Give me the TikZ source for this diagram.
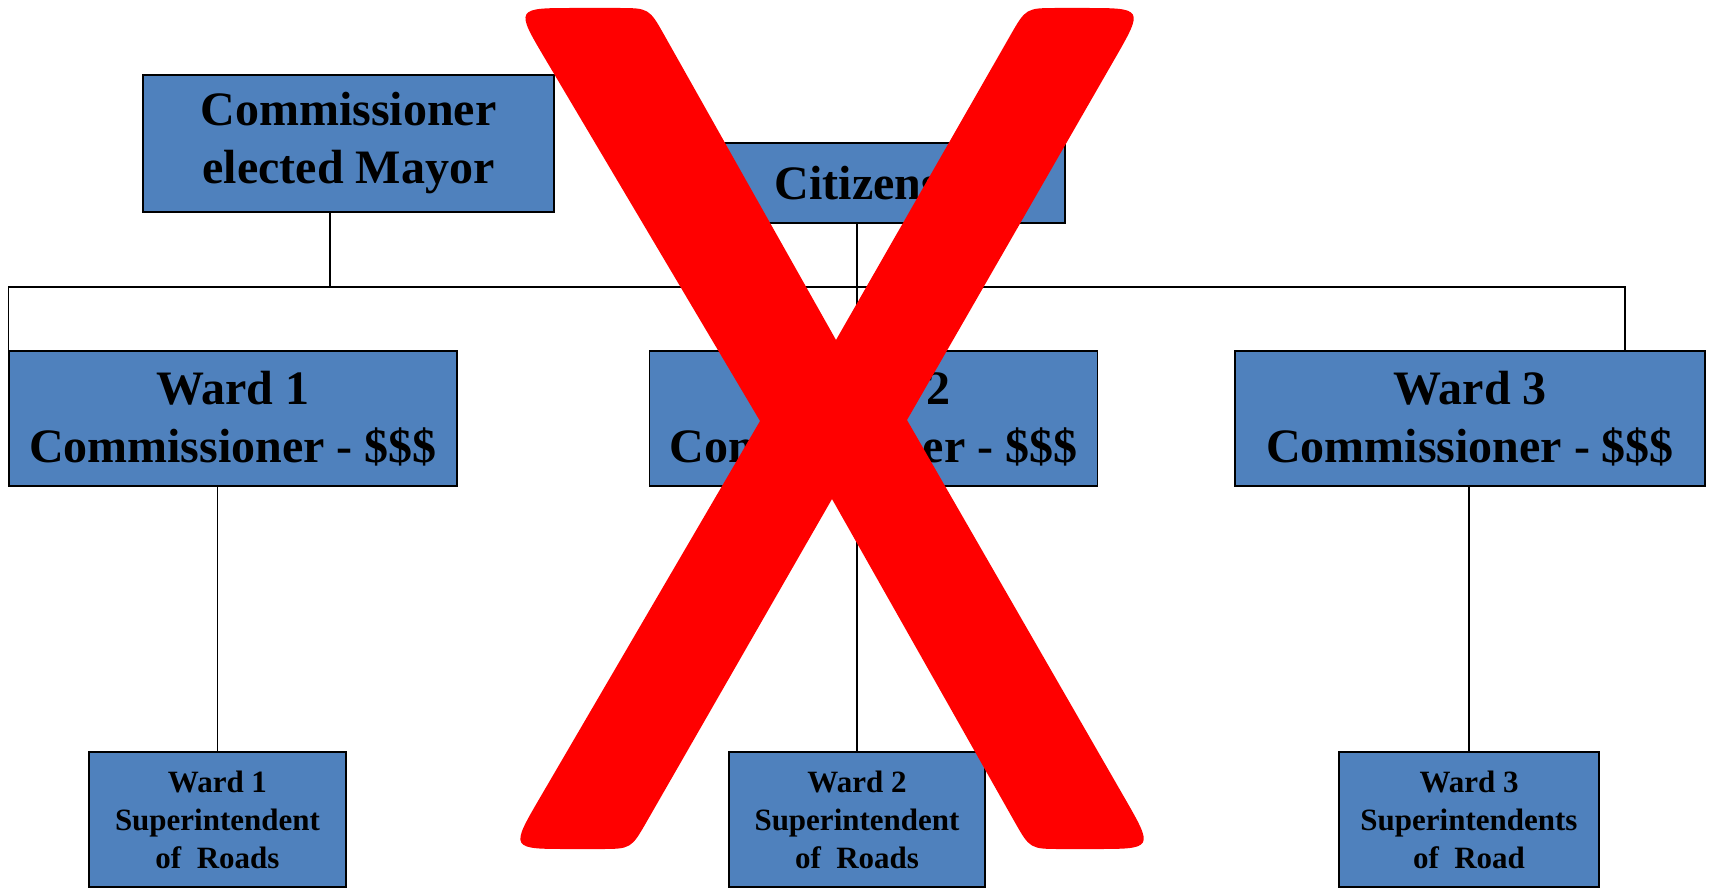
\documentclass[tikz,border=0pt]{standalone}
\usepackage{fontspec}
\setmainfont{Liberation Serif}
\usetikzlibrary{calc}
\definecolor{boxblue}{HTML}{4F81BD}
\definecolor{xred}{HTML}{FF0000}

\begin{document}
\begin{tikzpicture}[x=0.5pt,y=-0.5pt,
  bigbox/.style={draw,fill=boxblue,line width=0.75pt,align=center,inner sep=0pt,
    font=\fontsize{24}{29}\selectfont\bfseries},
  smallbox/.style={draw,fill=boxblue,line width=0.75pt,align=center,inner sep=0pt,
    font=\fontsize{15.5}{19}\selectfont\bfseries},
  link/.style={line width=0.7pt}]
\useasboundingbox (0,0) rectangle (1712,888);

\node[bigbox,minimum width=205.5pt,minimum height=68.5pt] (mayor) at (348.5,143.5) {Commissioner\\elected Mayor};
\node[bigbox,minimum width=171.5pt,minimum height=40pt] (citizens) at (893.5,183) {Citizens\hspace*{36pt}};
\node[bigbox,minimum width=224pt,minimum height=67.5pt] (ward1) at (233,418.5) {Ward 1\\Commissioner - \$\$\$};
\node[bigbox,minimum width=224pt,minimum height=67.5pt] (ward2) at (873.5,418.5) {Ward 2\\Commissioner - \$\$\$};
\node[bigbox,minimum width=235pt,minimum height=67.5pt] (ward3) at (1470,418.5) {Ward 3\\Commissioner - \$\$\$};
\node[smallbox,minimum width=128.5pt,minimum height=67.5pt] (sup1) at (217.5,819.5) {Ward 1\\Superintendent\\of~ Roads};
\node[smallbox,minimum width=128pt,minimum height=67.5pt] (sup2) at (857,819.5) {Ward 2\\Superintendent\\of~ Roads};
\node[smallbox,minimum width=130pt,minimum height=67.5pt] (sup3) at (1469,819.5) {Ward 3\\Superintendents\\of~ Road};

\coordinate (busR) at (1625,287);
\coordinate (mayordrop) at (330,287);
\coordinate (citdrop) at (857,287);
\draw[link] (ward1.north west) |- (busR) -- (busR |- ward3.north);
\draw[link] (mayordrop |- mayor.south) -- (mayordrop);
\draw[link] (citdrop |- citizens.south) -- (citdrop |- ward2.north);
\draw[link] (sup1.north) -- (sup1.north |- ward1.south);
\draw[link] (sup2.north) -- (sup2.north |- ward2.south);
\draw[link] (sup3.north) -- (sup3.north |- ward3.south);

\coordinate (tl1) at (515,8);
\coordinate (tl2) at (649,8);
\coordinate (n1) at (836,340);
\coordinate (tr1) at (1026,8);
\coordinate (tr2) at (1144,8);
\coordinate (n2) at (907,420);
\coordinate (br1) at (1154,849);
\coordinate (br2) at (1030,849);
\coordinate (n3) at (832,499);
\coordinate (bl1) at (631,849);
\coordinate (bl2) at (510,849);
\coordinate (n4) at (760,421);
\fill[xred] (n4) -- ($(tl1)!30pt!(n4)$) .. controls (tl1) .. ($(tl1)!30pt!(tl2)$)
  -- ($(tl2)!16pt!(tl1)$) .. controls (tl2) .. ($(tl2)!16pt!(n1)$) -- (n1)
  -- ($(tr1)!16pt!(n1)$) .. controls (tr1) .. ($(tr1)!16pt!(tr2)$)
  -- ($(tr2)!30pt!(tr1)$) .. controls (tr2) .. ($(tr2)!30pt!(n2)$) -- (n2)
  -- ($(br1)!30pt!(n2)$) .. controls (br1) .. ($(br1)!30pt!(br2)$)
  -- ($(br2)!16pt!(br1)$) .. controls (br2) .. ($(br2)!16pt!(n3)$) -- (n3)
  -- ($(bl1)!16pt!(n3)$) .. controls (bl1) .. ($(bl1)!16pt!(bl2)$)
  -- ($(bl2)!30pt!(bl1)$) .. controls (bl2) .. ($(bl2)!30pt!(n4)$) -- cycle;
\end{tikzpicture}
\end{document}
